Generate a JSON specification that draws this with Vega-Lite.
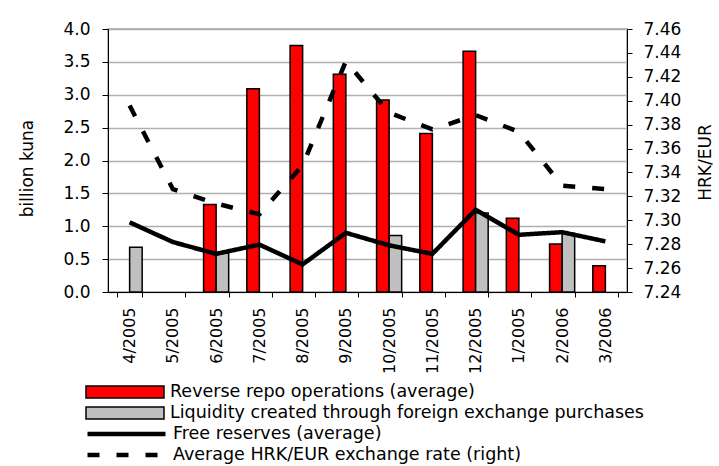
{
  "$schema": "https://vega.github.io/schema/vega-lite/v6.json",
  "autosize": "none",
  "padding": {"left": 108, "top": 29, "right": 92, "bottom": 174},
  "width": 519,
  "height": 263,
  "background": "white",
  "config": {
    "font": "DejaVu Sans",
    "view": {"stroke": "#a0a0a0", "strokeWidth": 1.5},
    "axis": {
      "domainColor": "black",
      "tickColor": "black",
      "labelColor": "black",
      "titleColor": "black",
      "titleFontWeight": "normal",
      "labelOverlap": false,
      "labelFlush": false,
      "gridColor": "#b0b0b0",
      "gridWidth": 1.5,
      "gridOpacity": 1
    },
    "legend": {
      "padding": 0,
      "rowPadding": 0,
      "labelFontSize": 17.5,
      "labelColor": "black",
      "labelLimit": 700,
      "labelBaseline": "middle",
      "labelOffset": 5,
      "clipHeight": 21
    }
  },
  "data": {
    "values": [
      {"month": "4/2005", "repo": null, "fx": 0.68, "reserves": 1.06, "rate": 7.396},
      {"month": "5/2005", "repo": null, "fx": null, "reserves": 0.76, "rate": 7.326},
      {"month": "6/2005", "repo": 1.33, "fx": 0.59, "reserves": 0.58, "rate": 7.314},
      {"month": "7/2005", "repo": 3.09, "fx": null, "reserves": 0.72, "rate": 7.305},
      {"month": "8/2005", "repo": 3.75, "fx": null, "reserves": 0.42, "rate": 7.346},
      {"month": "9/2005", "repo": 3.31, "fx": null, "reserves": 0.90, "rate": 7.433},
      {"month": "10/2005", "repo": 2.92, "fx": 0.86, "reserves": 0.71, "rate": 7.390},
      {"month": "11/2005", "repo": 2.41, "fx": null, "reserves": 0.58, "rate": 7.376},
      {"month": "12/2005", "repo": 3.66, "fx": 1.20, "reserves": 1.25, "rate": 7.388},
      {"month": "1/2005", "repo": 1.12, "fx": null, "reserves": 0.87, "rate": 7.374},
      {"month": "2/2006", "repo": 0.73, "fx": 0.89, "reserves": 0.91, "rate": 7.329},
      {"month": "3/2006", "repo": 0.40, "fx": null, "reserves": 0.77, "rate": 7.326}
    ]
  },
  "encoding": {
    "x": {
      "field": "month",
      "type": "ordinal",
      "sort": ["4/2005", "5/2005", "6/2005", "7/2005", "8/2005", "9/2005", "10/2005", "11/2005", "12/2005", "1/2005", "2/2006", "3/2006"],
      "scale": {"paddingInner": 0.42, "paddingOuter": 0.21},
      "axis": {
        "title": null,
        "labelAngle": -90,
        "labelFontSize": 16,
        "labelPadding": 10,
        "tickSize": 5,
        "tickBand": "extent",
        "grid": false
      }
    }
  },
  "layer": [
    {
      "transform": [
        {"calculate": "datum.repo", "as": "Reverse repo operations (average)"},
        {"calculate": "datum.fx", "as": "Liquidity created through foreign exchange purchases"},
        {"fold": ["Reverse repo operations (average)", "Liquidity created through foreign exchange purchases"], "as": ["series", "value"]},
        {"filter": "datum.value != null"}
      ],
      "mark": {"type": "bar", "stroke": "black", "strokeWidth": 1.5},
      "encoding": {
        "xOffset": {
          "field": "series",
          "type": "nominal",
          "scale": {"domain": ["Reverse repo operations (average)", "Liquidity created through foreign exchange purchases"]}
        },
        "y": {
          "field": "value",
          "type": "quantitative",
          "scale": {"domain": [0, 4], "nice": false},
          "axis": {
            "orient": "left",
            "values": [0, 0.5, 1, 1.5, 2, 2.5, 3, 3.5, 4],
            "format": ".1f",
            "title": "billion kuna",
            "titleFontSize": 17,
            "titleAngle": 270,
            "titleX": -81,
            "titleY": 139,
            "titleAlign": "center",
            "titleBaseline": "middle",
            "labelFontSize": 17,
            "labelPadding": 12,
            "tickSize": 6,
            "grid": true
          }
        },
        "color": {
          "field": "series",
          "type": "nominal",
          "scale": {
            "domain": ["Reverse repo operations (average)", "Liquidity created through foreign exchange purchases"],
            "range": ["#ff0000", "#c0c0c0"]
          },
          "legend": {
            "title": null,
            "orient": "none",
            "legendX": -23,
            "legendY": 352.5,
            "direction": "vertical",
            "symbolType": "M-1,-0.154H1V0.154H-1Z",
            "symbolSize": 6084,
            "symbolStrokeColor": "black",
            "symbolStrokeWidth": 1.5,
            "symbolOpacity": 1
          }
        }
      }
    },
    {
      "mark": {"type": "line", "color": "black", "strokeWidth": 4.5},
      "encoding": {
        "y": {
          "field": "reserves",
          "type": "quantitative",
          "scale": {"domain": [0, 4], "nice": false},
          "axis": null
        },
        "strokeDash": {"datum": "Free reserves (average)"}
      }
    },
    {
      "mark": {"type": "line", "color": "black", "strokeWidth": 4.5, "strokeCap": "butt"},
      "encoding": {
        "y": {
          "field": "rate",
          "type": "quantitative",
          "scale": {"domain": [7.24, 7.46], "nice": false, "zero": false},
          "axis": {
            "orient": "right",
            "values": [7.24, 7.26, 7.28, 7.3, 7.32, 7.34, 7.36, 7.38, 7.4, 7.42, 7.44, 7.46],
            "format": ".2f",
            "title": "HRK/EUR",
            "titleFontSize": 17,
            "titleAngle": 270,
            "titleX": 78,
            "titleY": 133,
            "titleAlign": "center",
            "titleBaseline": "middle",
            "labelFontSize": 17,
            "labelPadding": 11,
            "tickSize": 5,
            "grid": false
          }
        },
        "strokeDash": {
          "datum": "Average HRK/EUR exchange rate (right)",
          "scale": {
            "domain": ["Free reserves (average)", "Average HRK/EUR exchange rate (right)"],
            "range": [[1, 0], [12, 17]]
          },
          "legend": {
            "title": null,
            "orient": "none",
            "legendX": -23,
            "legendY": 394.5,
            "direction": "vertical",
            "symbolType": "stroke",
            "symbolSize": 6084,
            "symbolStrokeColor": "black",
            "symbolStrokeWidth": 4.5
          }
        }
      }
    }
  ],
  "resolve": {"scale": {"y": "independent"}, "axis": {"y": "independent"}}
}
